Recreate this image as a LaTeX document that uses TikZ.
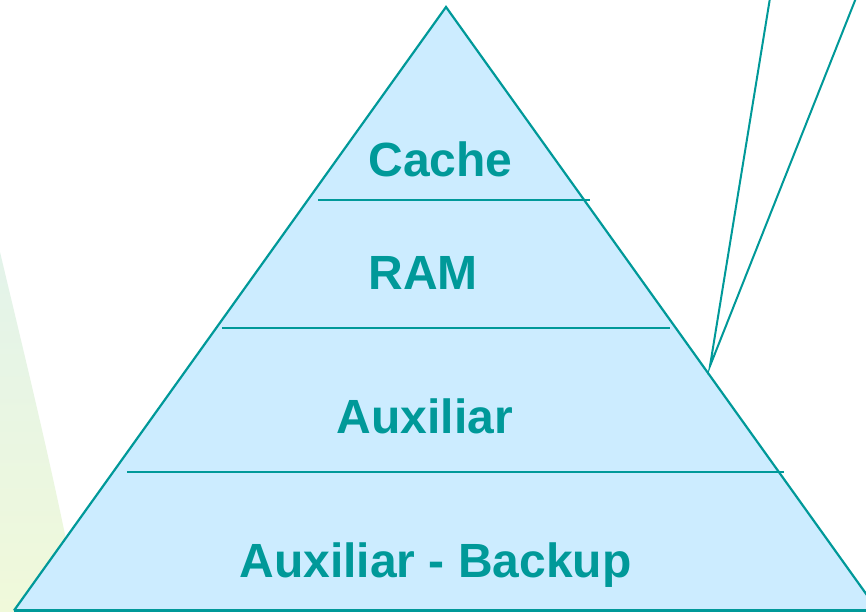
\documentclass[tikz,border=0pt]{standalone}
\usepackage{fontspec}
\setmainfont{Liberation Sans}
\definecolor{teal}{HTML}{009999}
\definecolor{pyrfill}{HTML}{CCECFF}
\definecolor{mintA}{HTML}{E3F3EA}
\definecolor{mintB}{HTML}{F0F9DA}
\begin{document}
\begin{tikzpicture}[x=1pt,y=-1pt,
  level/.style={anchor=base,inner sep=0pt,text=teal,font=\bfseries\fontsize{48}{56}\selectfont},
  edge/.style={draw=teal,line width=2.2pt},
  thin edge/.style={draw=teal,line width=2pt}]
\useasboundingbox (0,0) rectangle (866,612);
\clip (0,0) rectangle (866,612);
\fill[white] (0,0) rectangle (866,612);
% background green swoosh
\shade[top color=mintA,bottom color=mintB]
  (0,252) .. controls (28,370) and (60,500) .. (80,612) -- (0,612) -- cycle;
% pyramid
\coordinate (apex) at (446,7);
\coordinate (bl) at (14,610.5);
\coordinate (br) at (878,610.5);
\fill[pyrfill] (apex) -- (br) -- (878,613) -- (14,613) -- (bl) -- cycle;
% level separators
\coordinate (s1l) at (318,200); \coordinate (s1r) at (590,200);
\coordinate (s2l) at (222,328); \coordinate (s2r) at (670,328);
\coordinate (s3l) at (127,472); \coordinate (s3r) at (784,472);
\draw[edge] (s1l) -- (s1r);
\draw[edge] (s2l) -- (s2r);
\draw[edge] (s3l) -- (s3r);
\draw[edge,line join=miter] (bl) -- (apex) -- (br);
\draw[edge] (bl) -- (br);
% labels
\node[level] (cache) at (440.5,177) {Cache};
\node[level] (ram) at (423,289) {RAM};
\node[level] (aux) at (425,433) {Auxiliar};
\node[level] (backup) at (435.5,577) {Auxiliar - Backup};
% callout pointer
\coordinate (tip) at (710,366);
\coordinate (c1) at (770,-2);
\coordinate (c2) at (856,-2);
\draw[thin edge] (c1) -- (tip) -- (c2);
\end{tikzpicture}
\end{document}
